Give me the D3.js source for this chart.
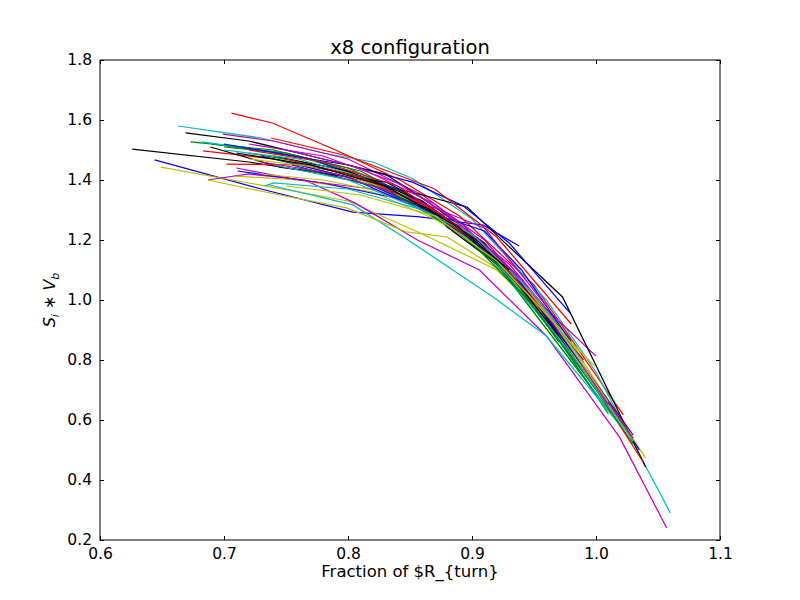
<!DOCTYPE html>
<html>
<head>
<meta charset="utf-8">
<script src="https://cdn.jsdelivr.net/npm/d3@7"></script>
<style>
  body { margin: 0; background: #fff; }
  text { font-family: "DejaVu Sans", sans-serif; }
</style>
</head>
<body>
<script>
// runs per colour, each run is a list of [fraction of R_turn, S_i*V_b]
let blueRuns = [
    [[0.644, 1.467], [0.73, 1.37], [0.804, 1.293], [0.858, 1.277], [0.909, 1.25], [0.938, 1.18]],
    [[0.74, 1.49], [0.80, 1.45], [0.852, 1.393], [0.893, 1.313], [0.93, 1.19], [0.979, 0.957]],
    [[0.711, 1.43], [0.78, 1.39], [0.85, 1.33], [0.90, 1.20], [0.95, 1.00], [1.00, 0.72], [1.035, 0.50]],
    [[0.70, 1.52], [0.77, 1.47], [0.84, 1.37], [0.90, 1.22], [0.96, 0.95], [1.01, 0.65]],
    [[0.73, 1.48], [0.80, 1.41], [0.86, 1.30], [0.91, 1.23], [0.94, 1.10], [0.98, 0.86]],
    [[0.755, 1.45], [0.82, 1.38], [0.88, 1.27], [0.935, 1.08], [0.99, 0.78], [1.03, 0.55]]
];
let greenRuns = [
    [[0.673, 1.527], [0.74, 1.50], [0.80, 1.44], [0.86, 1.33], [0.92, 1.15], [0.98, 0.867]],
    [[0.69, 1.52], [0.76, 1.48], [0.82, 1.40], [0.87, 1.29], [0.92, 1.12], [0.97, 0.85], [1.02, 0.58]],
    [[0.70, 1.51], [0.75, 1.49], [0.81, 1.43], [0.86, 1.32], [0.91, 1.17], [0.96, 0.93], [1.01, 0.62]],
    [[0.72, 1.49], [0.79, 1.44], [0.85, 1.35], [0.89, 1.24], [0.94, 1.04], [0.985, 0.79]],
    [[0.74, 1.47], [0.80, 1.42], [0.86, 1.31], [0.90, 1.19], [0.95, 0.98], [1.00, 0.70], [1.03, 0.52]],
    [[0.76, 1.44], [0.83, 1.37], [0.88, 1.25], [0.93, 1.09], [0.97, 0.86]]
];
let redRuns = [
    [[0.706, 1.623], [0.739, 1.59], [0.79, 1.50], [0.842, 1.40], [0.89, 1.28], [0.95, 1.05], [1.022, 0.617]],
    [[0.738, 1.54], [0.80, 1.48], [0.87, 1.37], [0.92, 1.21], [0.98, 0.92]],
    [[0.683, 1.497], [0.74, 1.47], [0.80, 1.42], [0.86, 1.32], [0.91, 1.17], [0.97, 0.90], [1.038, 0.46]],
    [[0.702, 1.453], [0.76, 1.45], [0.82, 1.39], [0.88, 1.27], [0.93, 1.10], [0.99, 0.80]],
    [[0.72, 1.50], [0.78, 1.46], [0.84, 1.38], [0.89, 1.24], [0.94, 1.06], [1.00, 0.72], [1.03, 0.54]],
    [[0.75, 1.47], [0.81, 1.41], [0.87, 1.30], [0.92, 1.14], [0.96, 0.95]]
];
let cyanRuns = [
    [[0.663, 1.58], [0.73, 1.54], [0.78, 1.49], [0.82, 1.46], [0.852, 1.405], [0.90, 1.27], [0.96, 1.00], [1.00, 0.76], [1.06, 0.29]],
    [[0.682, 1.527], [0.75, 1.49], [0.81, 1.42], [0.86, 1.33], [0.91, 1.16], [0.96, 0.92], [1.01, 0.63]],
    [[0.735, 1.385], [0.804, 1.317], [0.846, 1.207], [0.917, 1.01], [0.96, 0.88], [1.02, 0.58]],
    [[0.733, 1.38], [0.74, 1.39], [0.80, 1.37], [0.86, 1.30], [0.91, 1.17], [0.96, 0.93], [1.00, 0.70]],
    [[0.70, 1.50], [0.76, 1.47], [0.82, 1.40], [0.88, 1.27], [0.93, 1.09], [0.98, 0.82], [1.03, 0.53]],
    [[0.74, 1.45], [0.80, 1.40], [0.86, 1.30], [0.90, 1.22], [0.95, 1.02], [0.99, 0.79]]
];
let magentaRuns = [
    [[0.699, 1.553], [0.74, 1.53], [0.80, 1.47], [0.86, 1.35], [0.91, 1.20], [0.96, 0.97], [1.00, 0.813]],
    [[0.687, 1.40], [0.72, 1.42], [0.765, 1.40], [0.806, 1.323], [0.856, 1.20], [0.906, 1.10], [0.96, 0.88], [1.019, 0.543], [1.057, 0.24]],
    [[0.71, 1.44], [0.76, 1.40], [0.82, 1.37], [0.88, 1.28], [0.93, 1.12], [0.97, 0.92]],
    [[0.72, 1.52], [0.78, 1.48], [0.84, 1.39], [0.89, 1.26], [0.94, 1.07], [0.99, 0.78], [1.03, 0.53]],
    [[0.75, 1.50], [0.81, 1.44], [0.87, 1.32], [0.92, 1.15], [0.97, 0.90], [1.01, 0.65]],
    [[0.73, 1.46], [0.79, 1.42], [0.85, 1.34], [0.88, 1.29], [0.91, 1.24], [0.96, 0.98]]
];
let yellowRuns = [
    [[0.649, 1.443], [0.72, 1.39], [0.80, 1.33], [0.86, 1.22], [0.92, 1.10], [0.97, 0.90], [0.999, 0.78]],
    [[0.71, 1.413], [0.76, 1.40], [0.82, 1.36], [0.87, 1.27], [0.92, 1.14], [0.97, 0.92], [1.04, 0.473]],
    [[0.687, 1.40], [0.745, 1.35], [0.799, 1.307], [0.847, 1.227], [0.88, 1.21], [0.93, 1.08], [0.97, 0.88]],
    [[0.73, 1.42], [0.78, 1.40], [0.84, 1.35], [0.89, 1.25], [0.94, 1.05], [0.99, 0.77], [1.03, 0.53]],
    [[0.72, 1.47], [0.78, 1.44], [0.84, 1.36], [0.89, 1.24], [0.94, 1.06], [0.985, 0.83]],
    [[0.75, 1.38], [0.81, 1.35], [0.87, 1.28], [0.92, 1.13], [0.965, 0.93], [1.01, 0.66]]
];
let blackRuns = [
    [[0.626, 1.503], [0.72, 1.46], [0.80, 1.41], [0.86, 1.35], [0.896, 1.31], [0.973, 1.01], [1.04, 0.443]],
    [[0.669, 1.557], [0.72, 1.53], [0.78, 1.47], [0.83, 1.42], [0.86, 1.34], [0.91, 1.19], [0.96, 0.96]],
    [[0.689, 1.51], [0.745, 1.443], [0.831, 1.393], [0.84, 1.373], [0.868, 1.307], [0.88, 1.243], [0.92, 1.12], [0.97, 0.88]],
    [[0.74, 1.48], [0.80, 1.43], [0.86, 1.33], [0.91, 1.18], [0.95, 1.00], [0.99, 0.76]],
    [[0.76, 1.46], [0.82, 1.40], [0.88, 1.27], [0.93, 1.09], [0.97, 0.88]],
    [[0.71, 1.49], [0.77, 1.45], [0.83, 1.38], [0.89, 1.24], [0.93, 1.10]]
];

let xTicks = [0.6, 0.7, 0.8, 0.9, 1.0, 1.1];
let yTicks = [0.2, 0.4, 0.6, 0.8, 1.0, 1.2, 1.4, 1.6, 1.8];

let groups = [
    {runs: blueRuns, color: '#0000ff'},
    {runs: greenRuns, color: '#008000'},
    {runs: redRuns, color: '#ff0000'},
    {runs: cyanRuns, color: '#00bfbf'},
    {runs: magentaRuns, color: '#bf00bf'},
    {runs: yellowRuns, color: '#bfbf00'},
    {runs: blackRuns, color: '#000000'}
];

// interleave like matplotlib's b,g,r,c,m,y,k cycle
let allRuns = [];
for (let i = 0; i < 6; i++) {
    groups.forEach(g => allRuns.push({pts: g.runs[i], color: g.color}));
}

let W = 800, H = 600;
let mLeft = 100, mRight = 720, mTop = 60, mBottom = 540;

let svg = d3.select('body').append('svg')
    .attr('width', W).attr('height', H);

let x = d3.scaleLinear().domain([0.6, 1.1]).range([mLeft, mRight]);
let y = d3.scaleLinear().domain([0.2, 1.8]).range([mBottom, mTop]);

svg.append('clipPath').attr('id', 'plot')
    .append('rect').attr('x', mLeft).attr('y', mTop)
    .attr('width', mRight - mLeft).attr('height', mBottom - mTop);

let line = d3.line().x(d => x(d[0])).y(d => y(d[1]));

svg.append('g').attr('clip-path', 'url(#plot)')
    .selectAll('path').data(allRuns).enter().append('path')
    .attr('d', d => line(d.pts))
    .attr('fill', 'none')
    .attr('stroke', d => d.color)
    .attr('stroke-width', 1.25);

// axes: ticks point inward on all four sides
let fmt = d3.format('.1f');
svg.append('g').attr('transform', `translate(0,${mBottom})`)
    .call(d3.axisBottom(x).tickValues(xTicks).tickSize(-4).tickPadding(8).tickFormat(fmt));
svg.append('g').attr('transform', `translate(0,${mTop})`)
    .call(d3.axisTop(x).tickValues(xTicks).tickSize(-4).tickFormat(''));
svg.append('g').attr('transform', `translate(${mLeft},0)`)
    .call(d3.axisLeft(y).tickValues(yTicks).tickSize(-4).tickPadding(8).tickFormat(fmt));
svg.append('g').attr('transform', `translate(${mRight},0)`)
    .call(d3.axisRight(y).tickValues(yTicks).tickSize(-4).tickFormat(''));

svg.selectAll('.domain').remove();
svg.selectAll('.tick line').attr('stroke', '#000');
svg.selectAll('.tick text')
    .attr('font-family', '"DejaVu Sans", sans-serif')
    .attr('font-size', 15.5).attr('fill', '#000');

svg.append('rect')
    .attr('x', mLeft).attr('y', mTop)
    .attr('width', mRight - mLeft).attr('height', mBottom - mTop)
    .attr('fill', 'none').attr('stroke', '#000').attr('stroke-width', 1);

svg.append('text').text('x8 configuration')
    .attr('x', (mLeft + mRight) / 2).attr('y', 54)
    .attr('text-anchor', 'middle').attr('font-size', 19.5);

svg.append('text').text('Fraction of $R_{turn}')
    .attr('x', (mLeft + mRight) / 2).attr('y', 577)
    .attr('text-anchor', 'middle').attr('font-size', 16.5);

let ylab = svg.append('text')
    .attr('transform', `translate(55,${(mTop + mBottom) / 2}) rotate(-90)`)
    .attr('text-anchor', 'middle').attr('font-size', 16);
ylab.append('tspan').text('S').attr('font-style', 'italic');
ylab.append('tspan').text('i').attr('font-style', 'italic')
    .attr('font-size', 11).attr('dy', 4);
ylab.append('tspan').text(' ∗ ').attr('dy', -4);
ylab.append('tspan').text('V').attr('font-style', 'italic');
ylab.append('tspan').text('b').attr('font-style', 'italic')
    .attr('font-size', 11).attr('dy', 4);
</script>
</body>
</html>
